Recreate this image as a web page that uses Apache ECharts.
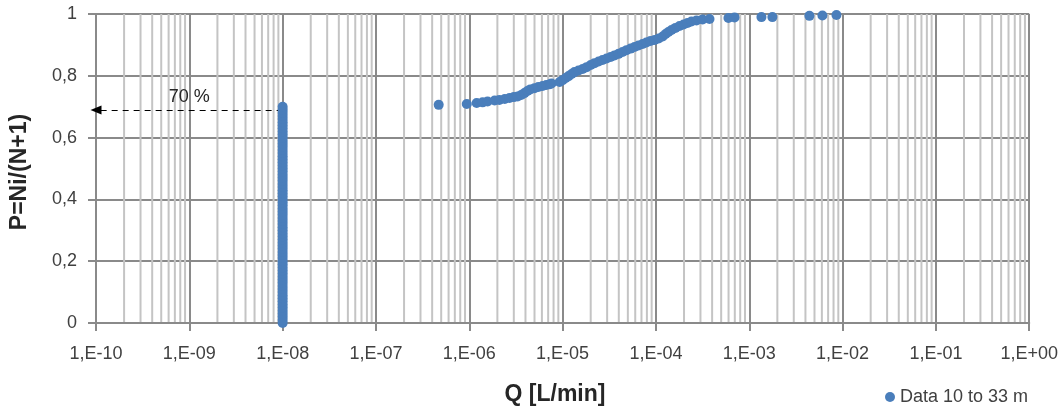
<!DOCTYPE html>
<html>
<head>
<meta charset="utf-8">
<script src="https://cdn.jsdelivr.net/npm/echarts@6/dist/echarts.min.js"></script>
<style>
  html, body { margin: 0; padding: 0; background: #fff; }
  #chart { width: 1061px; height: 412px; }
</style>
</head>
<body>
<div id="chart"></div>
<script>
// column of points sitting at the detection limit (Q = 1E-08)
const columnQ = 1e-8;
const columnP = [
  0.00, 0.01, 0.02, 0.03, 0.04, 0.05, 0.06, 0.07, 0.08, 0.09,
  0.10, 0.11, 0.12, 0.13, 0.14, 0.15, 0.16, 0.17, 0.18, 0.19,
  0.20, 0.21, 0.22, 0.23, 0.24, 0.25, 0.26, 0.27, 0.28, 0.29,
  0.30, 0.31, 0.32, 0.33, 0.34, 0.35, 0.36, 0.37, 0.38, 0.39,
  0.40, 0.41, 0.42, 0.43, 0.44, 0.45, 0.46, 0.47, 0.48, 0.49,
  0.50, 0.51, 0.52, 0.53, 0.54, 0.55, 0.56, 0.57, 0.58, 0.59,
  0.60, 0.61, 0.62, 0.63, 0.64, 0.65, 0.66, 0.67, 0.68, 0.69,
  0.70
];

// measured flow values above the limit
const tailQ = [
  4.7e-7, 9.4e-7, 1.2e-6, 1.39e-6, 1.57e-6, 1.87e-6, 2.1e-6, 2.4e-6, 2.7e-6, 3.0e-6,
  3.3e-6, 3.6e-6, 3.9e-6, 4.2e-6, 4.5e-6, 5.0e-6, 5.5e-6, 6.1e-6, 6.7e-6, 7.3e-6,
  7.6e-6, 9.3e-6, 1.0e-5, 1.08e-5, 1.16e-5, 1.25e-5, 1.34e-5, 1.48e-5, 1.64e-5, 1.81e-5,
  2.0e-5, 2.2e-5, 2.43e-5, 2.68e-5, 2.96e-5, 3.27e-5, 3.6e-5, 3.98e-5, 4.39e-5, 4.84e-5,
  5.35e-5, 5.9e-5, 6.5e-5, 7.2e-5, 7.9e-5, 8.75e-5, 9.7e-5, 1.07e-4, 1.18e-4, 1.27e-4,
  1.36e-4, 1.47e-4, 1.62e-4, 1.79e-4, 1.98e-4, 2.18e-4, 2.40e-4, 2.72e-4, 3.16e-4, 3.75e-4,
  5.98e-4, 6.95e-4, 1.35e-3, 1.77e-3, 4.41e-3, 6.08e-3, 8.6e-3
];
const tailP = [
  0.706, 0.709, 0.712, 0.714, 0.717, 0.720, 0.722, 0.725, 0.728, 0.731,
  0.733, 0.738, 0.744, 0.751, 0.756, 0.760, 0.764, 0.767, 0.770, 0.773,
  0.775, 0.780, 0.786, 0.793, 0.799, 0.806, 0.812, 0.817, 0.822, 0.828,
  0.835, 0.841, 0.846, 0.851, 0.856, 0.861, 0.866, 0.871, 0.877, 0.883,
  0.888, 0.893, 0.898, 0.903, 0.908, 0.913, 0.916, 0.921, 0.927, 0.935,
  0.942, 0.948, 0.955, 0.961, 0.966, 0.971, 0.976, 0.979, 0.982, 0.984,
  0.987, 0.989, 0.990, 0.990, 0.994, 0.995, 0.997
];

const seriesName = 'Data 10 to 33 m';
const arrowP = 0.689;
const arrowLabel = '70 %';

const FONT = '"Liberation Sans", Arial, sans-serif';
const BLUE = '#4a7ebb';
const MAJOR = '#8a8a8a';
const MINOR = '#c4c4c4';
const TEXT = '#404040';

const points = [
  ...columnP.map(p => [columnQ, p]),
  ...tailQ.map((q, i) => [q, tailP[i]]),
];

// minor log grid lines at 2..9 of every decade
const minorQ = [];
for (let e = -10; e < 0; e++) {
  for (let m = 2; m <= 9; m++) minorQ.push(m * Math.pow(10, e));
}

function expLabel(v) {
  const e = Math.round(Math.log10(v));
  const s = e >= 0 ? '+' : '-';
  const a = Math.abs(e);
  return '1,E' + s + (a < 10 ? '0' + a : a);
}

const chart = echarts.init(document.getElementById('chart'));
chart.setOption({
  backgroundColor: '#fff',
  animation: false,
  textStyle: { fontFamily: FONT },
  grid: { left: 96, right: 31, top: 14, bottom: 89 },
  legend: {
    left: 880,
    top: 383,
    icon: 'circle',
    itemWidth: 10,
    itemHeight: 10,
    itemGap: 5,
    data: [seriesName],
    textStyle: { fontFamily: FONT, fontSize: 18, color: TEXT },
  },
  xAxis: {
    type: 'log',
    logBase: 10,
    min: 1e-10,
    max: 1,
    interval: 1,
    splitNumber: 10,
    axisLine: { show: true, onZero: false, lineStyle: { color: MAJOR, width: 2 } },
    axisTick: { show: true, length: 8, lineStyle: { color: MAJOR, width: 2 } },
    axisLabel: { margin: 22, fontSize: 18, color: TEXT, fontFamily: FONT, formatter: expLabel, interval: 0 },
    splitLine: { show: true, lineStyle: { color: MAJOR, width: 2 } },
    minorTick: { show: false },
    minorSplitLine: { show: false },
  },
  yAxis: {
    type: 'value',
    min: 0,
    max: 1,
    interval: 0.2,
    axisLine: { show: true, lineStyle: { color: MAJOR, width: 2 } },
    axisTick: { show: true, length: 8, lineStyle: { color: MAJOR, width: 2 } },
    axisLabel: {
      margin: 19, fontSize: 18, color: TEXT, fontFamily: FONT,
      formatter: v => String(+v.toFixed(1)).replace('.', ','),
    },
    splitLine: { show: true, lineStyle: { color: MAJOR, width: 2 } },
  },
  graphic: [
    {
      type: 'text', x: 555, y: 395,
      style: {
        text: 'Q [L/min]', fontFamily: FONT, fontSize: 23, fontWeight: 'bold',
        fill: '#262626', align: 'center', verticalAlign: 'middle',
      },
    },
    {
      type: 'text', x: 20, y: 172, rotation: Math.PI / 2,
      style: {
        text: 'P=Ni/(N+1)', fontFamily: FONT, fontSize: 23, fontWeight: 'bold',
        fill: '#262626', align: 'center', verticalAlign: 'middle',
      },
    },
  ],
  series: [
    {
      // minor vertical grid lines, placed through the log axis
      name: 'minor-grid',
      type: 'custom',
      data: minorQ.map(q => [q]),
      silent: true,
      z: 0,
      clip: true,
      renderItem: (params, api) => {
        const q = api.value(0);
        const top = api.coord([q, 1]);
        const bot = api.coord([q, 0]);
        return {
          type: 'line',
          shape: { x1: top[0], y1: top[1], x2: bot[0], y2: bot[1] },
          style: { stroke: MINOR, lineWidth: 2 },
        };
      },
      encode: { x: 0 },
    },
    {
      name: seriesName,
      type: 'scatter',
      data: points,
      symbol: 'circle',
      symbolSize: 10,
      itemStyle: { color: BLUE, opacity: 1 },
      z: 5,
      markLine: {
        silent: true,
        symbol: ['none', 'triangle'],
        symbolSize: [9, 11],
        lineStyle: { color: '#000', width: 1, type: [6, 5] },
        label: {
          show: true,
          position: 'insideMiddleTop',
          formatter: arrowLabel,
          fontFamily: FONT,
          fontSize: 18,
          color: '#262626',
          distance: 4,
        },
        data: [[
          { coord: [columnQ, arrowP] },
          { coord: [1e-10, arrowP] },
        ]],
        animation: false,
      },
    },
  ],
});
</script>
</body>
</html>
